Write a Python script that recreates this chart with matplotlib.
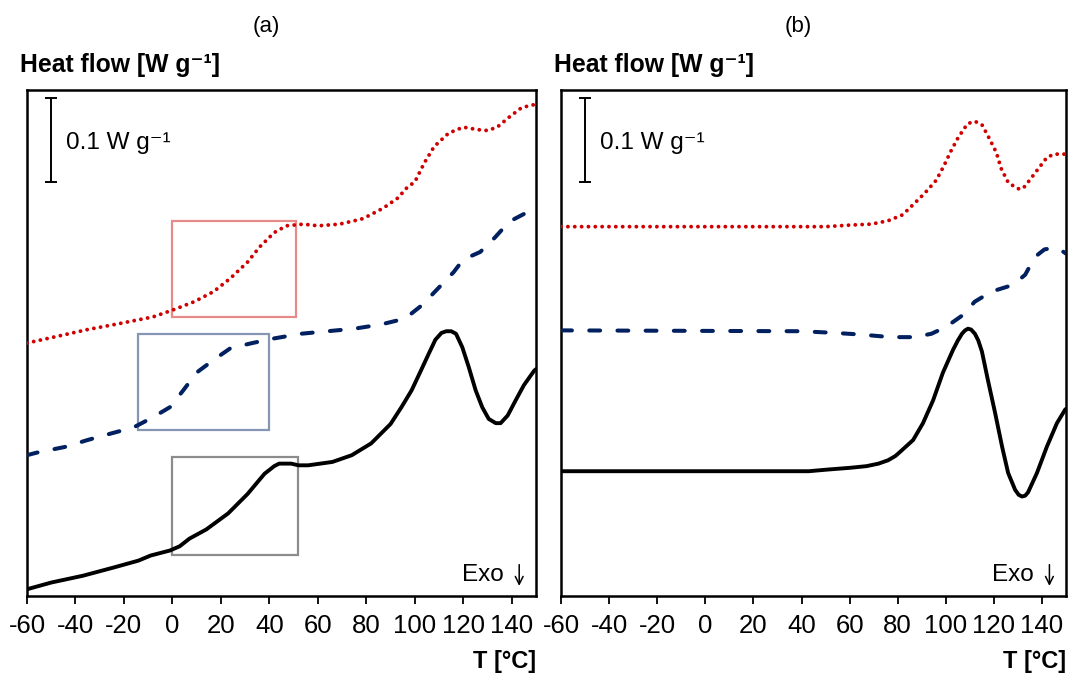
import matplotlib
matplotlib.use('Agg')
import matplotlib.pyplot as plt
from matplotlib.patches import Rectangle

plt.rcParams['font.family'] = ['Liberation Sans', 'DejaVu Sans']
plt.rcParams['axes.unicode_minus'] = False

# ---- data (T in degC, heat flow in W/g, curves shifted vertically) ----
# panel (a)
a_black_T = [-60, -50, -37, -24, -14, -9, -1, 3, 7, 14, 23, 31, 38, 42, 44, 46, 49, 52, 56, 66, 74, 82, 90,
             94.5, 98.7, 102.3, 105.7, 108.5, 111, 113, 115, 117, 119.6, 122.2, 125.1, 127.8, 130.5, 133.4,
             135.4, 138.3, 141.6, 145, 149.2, 150]
a_black_hf = [0.008, 0.016, 0.024, 0.034, 0.042, 0.048, 0.054, 0.059, 0.068, 0.079, 0.098, 0.121, 0.145, 0.154,
              0.157, 0.157, 0.157, 0.155, 0.155, 0.159, 0.167, 0.181, 0.204, 0.224, 0.244, 0.266, 0.287, 0.304,
              0.312, 0.314, 0.314, 0.311, 0.295, 0.272, 0.244, 0.224, 0.210, 0.205, 0.205, 0.214, 0.232, 0.250,
              0.267, 0.269]

a_blue_T = [-60, -56, -44, -35, -25, -16, -8, -1, 4.5, 10, 17, 24, 33, 41, 53, 64, 75, 86, 96, 103, 111, 116,
            120, 127, 133, 139, 147, 150]
a_blue_hf = [0.167, 0.170, 0.177, 0.185, 0.193, 0.200, 0.212, 0.224, 0.244, 0.265, 0.280, 0.294, 0.300, 0.305,
             0.311, 0.314, 0.317, 0.322, 0.329, 0.345, 0.369, 0.384, 0.399, 0.408, 0.425, 0.444, 0.456, 0.457]

a_red_T = [-60, -49, -35, -22, -8, 0, 9, 17, 24, 31, 36, 42, 47, 54, 60, 69, 78, 81, 87, 93, 97, 100, 104, 108,
           114, 120, 126, 130, 134, 139, 144, 148, 150]
a_red_hf = [0.300, 0.307, 0.316, 0.323, 0.331, 0.339, 0.349, 0.361, 0.377, 0.396, 0.414, 0.431, 0.439, 0.441,
            0.439, 0.441, 0.447, 0.451, 0.460, 0.472, 0.485, 0.491, 0.514, 0.533, 0.549, 0.556, 0.553, 0.552,
            0.556, 0.568, 0.579, 0.582, 0.583]

# glass transition boxes in (a): T0, T1, hf0, hf1
box_red = [0, 51, 0.331, 0.445]
box_blue = [-14, 40, 0.197, 0.311]
box_gray = [0, 52, 0.049, 0.165]

# panel (b)
b_black_T = [-60, 43, 51, 60, 67, 72, 76, 79, 81, 86.4, 90.5, 94.7, 98.8, 103, 105, 106.7, 108, 109.2, 110.5,
             112.1, 113.5, 115, 117.5, 120.5, 123.4, 125.9, 128.8, 130.3, 131.7, 133, 134.2, 137.9, 142, 146.2,
             149.6, 150]
b_black_hf = [0.148, 0.148, 0.150, 0.152, 0.154, 0.157, 0.161, 0.166, 0.171, 0.185, 0.205, 0.232, 0.265, 0.292,
              0.303, 0.311, 0.315, 0.317, 0.316, 0.311, 0.303, 0.290, 0.256, 0.217, 0.177, 0.146, 0.126, 0.120,
              0.118, 0.119, 0.123, 0.146, 0.177, 0.205, 0.221, 0.222]

b_blue_T = [-60, 40, 54, 65, 77, 87, 94, 100, 107, 112, 119, 128, 133, 137, 141, 145, 149, 150]
b_blue_hf = [0.315, 0.314, 0.312, 0.310, 0.307, 0.307, 0.311, 0.319, 0.333, 0.349, 0.361, 0.369, 0.381, 0.402,
             0.411, 0.413, 0.408, 0.406]

b_red_T = [-60, 50, 61, 69, 76, 82, 86, 91, 96, 99, 102, 105, 109, 112, 115, 118, 121, 123, 126, 130, 132, 134,
           138, 142, 145, 148, 150]
b_red_hf = [0.438, 0.438, 0.440, 0.441, 0.445, 0.452, 0.463, 0.477, 0.493, 0.509, 0.527, 0.543, 0.560, 0.563,
            0.559, 0.543, 0.526, 0.507, 0.490, 0.483, 0.483, 0.490, 0.505, 0.520, 0.524, 0.524, 0.524]

xticks = [-60, -40, -20, 0, 20, 40, 60, 80, 100, 120, 140]

red = '#d10000'
navy = '#002060'

fig = plt.figure(figsize=(10.75, 6.75), dpi=100)
ax_a = fig.add_axes([0.0251, 0.117, 0.4735, 0.7496])
ax_b = fig.add_axes([0.5219, 0.117, 0.4698, 0.7496])


def draw_curves(ax, black, blue, reds):
    ax.plot(black[0], black[1], color='black', lw=2.8, solid_capstyle='round',
            solid_joinstyle='round', zorder=3)
    ax.plot(blue[0], blue[1], color=navy, lw=2.9, dashes=(2.7, 4.3), dash_capstyle='round', zorder=3)
    ax.plot(reds[0], reds[1], color=red, lw=2.8, dashes=(0.01, 1.75), dash_capstyle='round', zorder=3)


def style_axes(ax, title):
    ax.set_xlim(-60, 150)
    ax.set_ylim(0, 0.6)
    ax.set_xticks(xticks)
    ax.set_yticks([])
    ax.tick_params(axis='x', direction='out', length=6, width=1.3, pad=7, labelsize=18.5)
    for s in ax.spines.values():
        s.set_linewidth(1.8)
    ax.text(0.47, 1.125, title, transform=ax.transAxes, ha='center', va='center', fontsize=16)
    ax.text(-0.014, 1.036, 'Heat flow [W g\u207b\u00b9]', transform=ax.transAxes,
            ha='left', va='baseline', fontsize=17.8, fontweight='bold')
    ax.text(1.0, -0.13, 'T [°C]', transform=ax.transAxes, ha='right', va='center',
            fontsize=17, fontweight='bold')
    # exo direction
    ax.text(0.936, 0.042, 'Exo', transform=ax.transAxes, ha='right', va='center', fontsize=17.5)
    ax.annotate('', xy=(0.967, 0.020), xytext=(0.967, 0.062), xycoords='axes fraction',
                arrowprops=dict(arrowstyle='->', lw=1.1, color='black', mutation_scale=14,
                                shrinkA=0, shrinkB=0))
    # 0.1 W/g scale bar
    ax.errorbar([-50], [0.541], yerr=0.05, fmt='none', ecolor='black', elinewidth=1.4,
                capsize=4.3, capthick=1.4)
    ax.text(-44, 0.537, '0.1 W g\u207b\u00b9', ha='left', va='center', fontsize=17.5)


draw_curves(ax_a, (a_black_T, a_black_hf), (a_blue_T, a_blue_hf), (a_red_T, a_red_hf))
draw_curves(ax_b, (b_black_T, b_black_hf), (b_blue_T, b_blue_hf), (b_red_T, b_red_hf))

for box, c in zip([box_red, box_blue, box_gray], ['#e78a8a', '#8596b4', '#8c8c8c']):
    ax_a.add_patch(Rectangle((box[0], box[2]), box[1] - box[0], box[3] - box[2],
                             fill=False, edgecolor=c, lw=1.6, zorder=2))

style_axes(ax_a, '(a)')
style_axes(ax_b, '(b)')

fig.savefig('out.png', dpi=100)
